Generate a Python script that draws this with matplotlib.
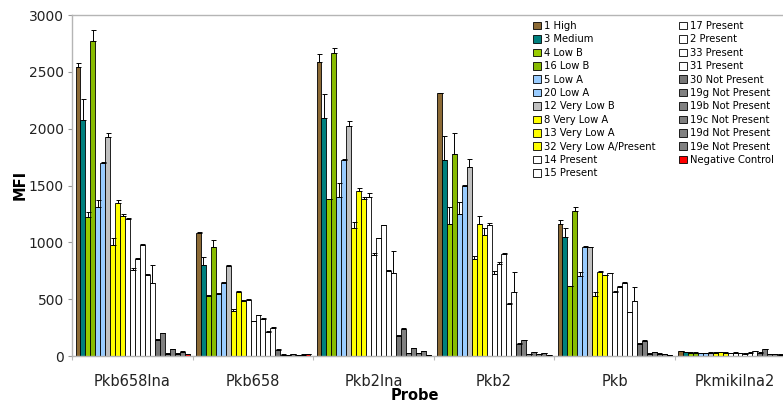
import matplotlib
matplotlib.use("Agg")
import matplotlib.pyplot as plt
import numpy as np
from matplotlib.patches import Patch

PROBES = ["Pkb658lna", "Pkb658", "Pkb2lna", "Pkb2", "Pkb", "Pkmikilna2"]

SERIES = [
    "1 High", "3 Medium", "4 Low B", "16 Low B", "5 Low A", "20 Low A",
    "12 Very Low B", "8 Very Low A", "13 Very Low A", "32 Very Low A/Present",
    "14 Present", "15 Present", "17 Present", "2 Present", "33 Present",
    "31 Present", "30 Not Present", "19g Not Present", "19b Not Present",
    "19c Not Present", "19d Not Present", "19e Not Present", "Negative Control",
]

COLORS = [
    "#8c6a35", "#00807e", "#99cc00", "#88bb00", "#99ccff", "#99ccff",
    "#c0c0c0", "#ffff00", "#ffff00", "#ffff00",
    "#ffffff", "#ffffff", "#ffffff", "#ffffff", "#ffffff", "#ffffff",
    "#777777", "#808080", "#808080", "#808080", "#808080", "#808080", "#ff0000",
]

# MFI per probe, one value per series (same order as SERIES)
MFI_PKB658LNA = [2540, 2080, 1225, 2775, 1310, 1695, 1925, 980, 1350, 1235,
                 1205, 755, 850, 980, 710, 640, 145, 200, 20, 60, 22, 38, 22]
MFI_PKB658 = [1085, 805, 530, 955, 545, 645, 795, 400, 560, 480,
              493, 305, 360, 328, 215, 250, 53, 12, 10, 18, 10, 12, 15]
MFI_PKB2LNA = [2590, 2090, 1380, 2670, 1400, 1725, 2025, 1130, 1455, 1380,
               1400, 885, 1035, 1150, 750, 730, 180, 240, 25, 68, 25, 44, 12]
MFI_PKB2 = [2310, 1725, 1165, 1775, 1245, 1500, 1665, 850, 1160, 1065,
            1150, 725, 810, 895, 460, 565, 108, 140, 18, 32, 18, 25, 10]
MFI_PKB = [1160, 1045, 615, 1275, 705, 960, 955, 530, 740, 710,
           727, 565, 610, 645, 385, 485, 110, 135, 20, 35, 20, 15, 10]
MFI_PKMIKILNA2 = [40, 35, 30, 28, 25, 25, 30, 28, 35, 30,
                  25, 30, 25, 20, 30, 40, 28, 60, 15, 15, 12, 10, 8]

# upper error bar length
ERR_PKB658LNA = [35, 185, 40, 95, 60, 15, 35, 60, 20, 15,
                 5, 15, 15, 5, 10, 160, 5, 5, 5, 5, 5, 5, 0]
ERR_PKB658 = [5, 70, 10, 65, 10, 10, 5, 10, 15, 10,
              5, 5, 5, 5, 5, 5, 5, 3, 3, 3, 3, 3, 0]
ERR_PKB2LNA = [65, 215, 5, 40, 125, 5, 40, 45, 20, 20,
               30, 20, 5, 5, 5, 195, 5, 10, 3, 3, 3, 3, 0]
ERR_PKB2 = [5, 210, 145, 190, 110, 5, 65, 30, 70, 60,
            20, 20, 20, 15, 10, 175, 5, 5, 3, 3, 3, 3, 0]
ERR_PKB = [35, 80, 5, 40, 30, 5, 5, 30, 5, 5,
           5, 5, 5, 5, 5, 125, 5, 5, 3, 3, 3, 3, 0]
ERR_PKMIKILNA2 = [3, 3, 3, 3, 3, 3, 3, 3, 3, 3,
                  3, 3, 3, 3, 3, 3, 3, 3, 3, 3, 3, 3, 0]


def main():
    values = np.array([MFI_PKB658LNA, MFI_PKB658, MFI_PKB2LNA,
                       MFI_PKB2, MFI_PKB, MFI_PKMIKILNA2], dtype=float)
    errors = np.array([ERR_PKB658LNA, ERR_PKB658, ERR_PKB2LNA,
                       ERR_PKB2, ERR_PKB, ERR_PKMIKILNA2], dtype=float)

    fig = plt.figure(figsize=(7.83, 4.07), dpi=100)
    ax = fig.add_axes([0.0923, 0.1253, 0.9234, 0.8378])

    n = len(SERIES)
    group_w = 0.946
    width = group_w / n
    x = np.arange(len(PROBES))

    for i, name in enumerate(SERIES):
        pos = x - group_w / 2 + width * (i + 0.5)
        vals = values[:, i]
        err = errors[:, i]
        ax.bar(pos, vals, width, color=COLORS[i], edgecolor="black",
               linewidth=0.6, zorder=2)
        ax.errorbar(pos, vals, yerr=[np.zeros_like(err), err], fmt="none",
                    ecolor="black", elinewidth=0.7, capsize=1.8,
                    capthick=0.7, zorder=3)

    ax.set_xlim(-0.5, len(PROBES) - 0.5)
    ax.set_ylim(0, 3000)
    ax.set_yticks(np.arange(0, 3001, 500))
    ax.tick_params(axis="y", labelsize=10, length=3, color="#999999",
                   labelcolor="#222222", pad=3)

    ax.set_xticks(np.arange(len(PROBES) + 1) - 0.5)
    ax.set_xticklabels([])
    ax.tick_params(axis="x", which="major", length=3, color="#bbbbbb")
    ax.set_xticks(x, minor=True)
    ax.set_xticklabels(PROBES, minor=True, fontsize=10.5, color="#222222")
    ax.tick_params(axis="x", which="minor", length=0, pad=13)

    for side in ["left", "bottom", "top"]:
        ax.spines[side].set_color("#b5b5b5")
        ax.spines[side].set_linewidth(1.0)
    ax.spines["right"].set_visible(False)

    fig.text(20 / 783, 1 - 185 / 407, "MFI", rotation=90, ha="center",
             va="center", fontsize=10.5, fontweight="bold")
    fig.text(415 / 783, 1 - 395 / 407, "Probe", ha="center", va="center",
             fontsize=10.5, fontweight="bold")

    handles = [Patch(facecolor=c, edgecolor="black", linewidth=0.6, label=s)
               for s, c in zip(SERIES, COLORS)]
    fig.legend(handles=handles, loc="upper left",
               bbox_to_anchor=(533 / 783, 1 - 21 / 407), ncol=2,
               frameon=False, fontsize=7.2, handlelength=0.8,
               handleheight=0.8, handletextpad=0.3, labelspacing=0.34,
               columnspacing=2.3, borderpad=0, borderaxespad=0)

    fig.savefig("out.png", dpi=100)
    plt.close(fig)


if __name__ == "__main__":
    main()
